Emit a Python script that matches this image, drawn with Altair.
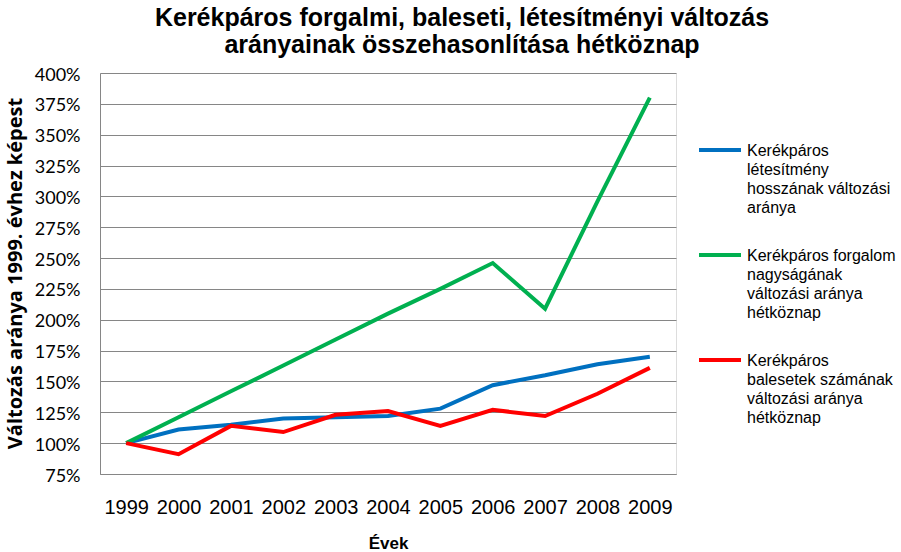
import altair as alt
import pandas as pd

years = ["1999", "2000", "2001", "2002", "2003", "2004", "2005", "2006", "2007", "2008", "2009"]
letesitmeny = [100, 111, 115, 120, 121, 122, 128, 147, 155, 164, 170]
forgalom = [100, 121, 142, 163, 184, 205, 225, 246, 209, 296, 380]
balesetek = [100, 91, 114, 109, 123, 126, 114, 127, 122, 140, 161]

series_names = [
    "Kerékpáros|létesítmény|hosszának változási|aránya",
    "Kerékpáros forgalom|nagyságának|változási aránya|hétköznap",
    "Kerékpáros|balesetek számának|változási aránya|hétköznap",
]
series_colors = ["#0070C0", "#00B050", "#FF0000"]
y_ticks = [75, 100, 125, 150, 175, 200, 225, 250, 275, 300, 325, 350, 375, 400]

rows = []
for name, vals in zip(series_names, [letesitmeny, forgalom, balesetek]):
    for yr, v in zip(years, vals):
        rows.append({"Év": yr, "Arány": v / 100.0, "Sorozat": name})
df = pd.DataFrame(rows)

chart = (
    alt.Chart(df)
    .mark_line(strokeWidth=4)
    .encode(
        x=alt.X(
            "Év:O",
            sort=years,
            scale=alt.Scale(type="point", padding=0.5),
            axis=alt.Axis(
                title="Évek",
                labelAngle=0,
                labelFont="Liberation Sans",
                labelFontSize=20,
                labelColor="#000000",
                labelBaseline="middle",
                labelPadding=40,
                ticks=False,
                domainColor="#868686",
                domainWidth=1,
                titleFont="Liberation Sans",
                titleFontSize=17,
                titleFontWeight="bold",
                titleColor="#000000",
                titleBaseline="middle",
                titleY=69,
                grid=False,
            ),
        ),
        y=alt.Y(
            "Arány:Q",
            scale=alt.Scale(domain=[0.75, 4.0], nice=False, zero=False),
            axis=alt.Axis(
                title="Változás aránya 1999. évhez képest",
                values=[t / 100.0 for t in y_ticks],
                format=".0%",
                labelFont="Lato",
                labelFontSize=18,
                labelColor="#000000",
                labelBaseline="top",
                labelPadding=20,
                ticks=False,
                domainColor="#868686",
                domainWidth=1,
                gridColor="#868686",
                gridWidth=1,
                titleFont="Open Sans",
                titleFontSize=20,
                titleFontWeight="bold",
                titleColor="#000000",
                titleAngle=-90,
                titleAlign="center",
                titleBaseline="middle",
                titleX=-85,
                titleY=200,
            ),
        ),
        color=alt.Color(
            "Sorozat:N",
            scale=alt.Scale(domain=series_names, range=series_colors),
            legend=alt.Legend(
                title=None,
                orient="none",
                legendX=597,
                legendY=54,
                symbolType="stroke",
                symbolSize=1764,
                symbolStrokeWidth=4,
                labelExpr="split(datum.label, '|')",
                labelFont="Liberation Sans",
                labelFontSize=16,
                labelColor="#000000",
                labelBaseline="top",
                labelOffset=4,
                labelLimit=300,
                rowPadding=16,
            ),
        ),
    )
    .properties(
        width=576,
        height=401,
        title=alt.Title(
            ["Kerékpáros forgalmi, baleseti, létesítményi változás", "arányainak összehasonlítása hétköznap"],
            font="Liberation Sans",
            fontSize=25,
            fontWeight="bold",
            color="#000000",
            lineHeight=27,
            anchor="middle",
            frame="group",
            dx=74,
            offset=8,
        ),
        autosize=alt.AutoSizeParams(type="none"),
        padding={"left": 100, "top": 73, "right": 225, "bottom": 78},
    )
    .configure_view(stroke=None)
    .configure(background="white", style={"guide-label": {"lineHeight": 19, "dy": -7}})
)

chart.save("out.html", embed_options={"renderer": "svg", "actions": False})
